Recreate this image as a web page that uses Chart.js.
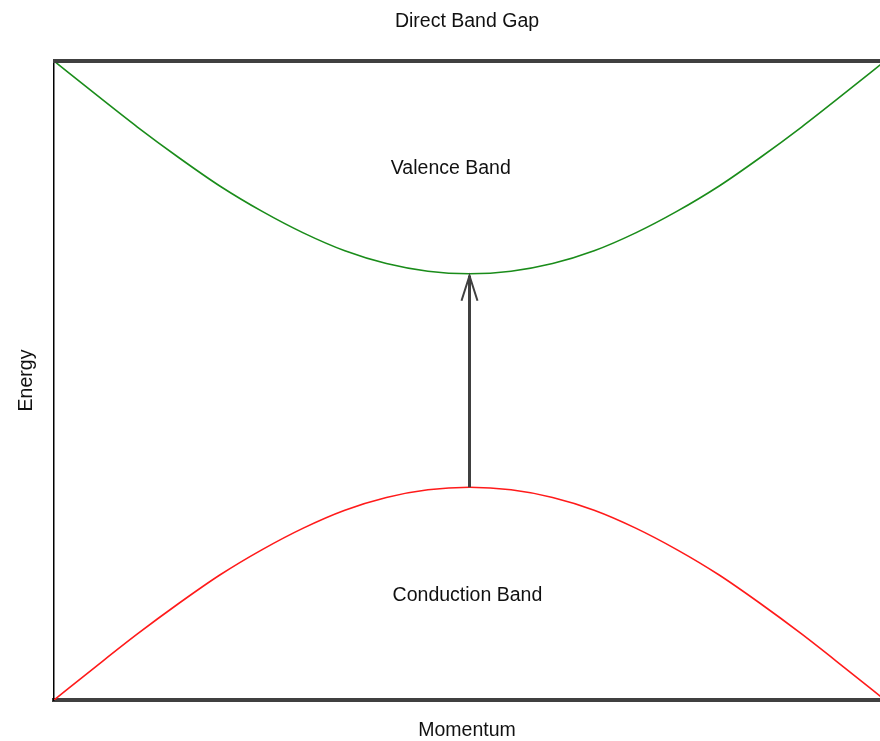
<!DOCTYPE html>
<html lang="en">
<head>
    <meta charset="UTF-8">
    <title>Direct Band Gap</title>
    <style>
        body { margin: 0; background: #fff; }
    </style>
</head>
<body>
    <canvas id="myChart" width="880" height="741"></canvas>

    <script src="https://cdn.jsdelivr.net/npm/chart.js"></script>
    <script>
    // momentum values along the x axis
    const momentum = [-1, -0.9, -0.8, -0.7, -0.6, -0.5, -0.4, -0.3, -0.2, -0.1, 0,
                      0.1, 0.2, 0.3, 0.4, 0.5, 0.6, 0.7, 0.8, 0.9, 1];
    // energies (axis 0..10)
    const valenceBand = [10.0, 9.48, 8.97, 8.49, 8.04, 7.65, 7.31, 7.03, 6.83, 6.71, 6.67,
                         6.71, 6.83, 7.03, 7.31, 7.65, 8.04, 8.49, 8.97, 9.48, 10.0];
    const conductionBand = [0.0, 0.52, 1.03, 1.51, 1.96, 2.35, 2.69, 2.97, 3.17, 3.29, 3.33,
                            3.29, 3.17, 2.97, 2.69, 2.35, 1.96, 1.51, 1.03, 0.52, 0.0];
    // gap arrow, from top of one band to bottom of the other
    const arrowFrom = [0, 3.33];
    const arrowTo = [0, 6.64];

    const FONT = '"Liberation Sans", Arial, sans-serif';
    const FSIZE = 19.5;
    const DARK = '#404040';

    Chart.defaults.font.family = FONT;
    Chart.defaults.color = '#111';

    const ctx = document.getElementById('myChart');

    const toPoints = (ys) => momentum.map((x, i) => ({ x: x, y: ys[i] }));

    // top frame line, arrow and the two band labels
    const extras = {
        id: 'extras',
        afterDatasetsDraw(chart) {
            const c = chart.ctx;
            const a = chart.chartArea;
            const xs = chart.scales.x, ys = chart.scales.y;
            c.save();
            c.strokeStyle = DARK;
            c.lineWidth = 4;
            c.beginPath();
            c.moveTo(a.left - 1, a.top);
            c.lineTo(a.right, a.top);
            c.stroke();

            const x0 = xs.getPixelForValue(arrowFrom[0]);
            const y0 = ys.getPixelForValue(arrowFrom[1]);
            const x1 = xs.getPixelForValue(arrowTo[0]);
            const y1 = ys.getPixelForValue(arrowTo[1]);
            c.lineWidth = 3;
            c.beginPath();
            c.moveTo(x0, y0);
            c.lineTo(x1, y1);
            c.stroke();
            c.lineWidth = 2;
            c.beginPath();
            c.moveTo(x1 - 8, y1 + 25);
            c.lineTo(x1, y1);
            c.lineTo(x1 + 8, y1 + 25);
            c.stroke();

            c.fillStyle = '#111';
            c.font = FSIZE + 'px ' + FONT;
            c.textAlign = 'center';
            c.textBaseline = 'middle';
            c.fillText('Valence Band', xs.getPixelForValue(-0.045), ys.getPixelForValue(8.31));
            c.fillText('Conduction Band', xs.getPixelForValue(-0.005), ys.getPixelForValue(1.64));
            c.restore();
        }
    };

    new Chart(ctx, {
        type: 'line',
        data: {
            datasets: [{
                label: 'Valence Band',
                data: toPoints(valenceBand),
                borderColor: '#1a8c1a',
                borderWidth: 1.6,
                pointRadius: 0,
                cubicInterpolationMode: 'monotone'
            }, {
                label: 'Conduction Band',
                data: toPoints(conductionBand),
                borderColor: '#ff1a1a',
                borderWidth: 1.6,
                pointRadius: 0,
                cubicInterpolationMode: 'monotone'
            }]
        },
        options: {
            responsive: false,
            animation: false,
            devicePixelRatio: 1,
            layout: { padding: 0 },
            plugins: {
                legend: { display: false },
                tooltip: { enabled: false },
                title: {
                    display: true,
                    text: 'Direct Band Gap',
                    fullSize: false,
                    color: '#111',
                    font: { size: FSIZE, weight: 'normal' },
                    padding: { top: 9.5, bottom: 28.1 }
                }
            },
            scales: {
                x: {
                    type: 'linear',
                    min: -1,
                    max: 0.988,
                    grid: { display: false, drawTicks: false },
                    ticks: { display: false },
                    border: { display: true, color: DARK, width: 4 },
                    title: {
                        display: true,
                        text: 'Momentum',
                        color: '#111',
                        font: { size: FSIZE },
                        padding: { top: 18.6, bottom: -1 }
                    }
                },
                y: {
                    min: 0,
                    max: 10,
                    grid: { display: false, drawTicks: false },
                    ticks: { display: false },
                    border: { display: true, color: '#000', width: 1.5 },
                    title: {
                        display: true,
                        text: 'Energy',
                        color: '#111',
                        font: { size: FSIZE },
                        padding: { top: 15.3, bottom: 15.3 }
                    }
                }
            }
        },
        plugins: [extras]
    });
    </script>
</body>
</html>
